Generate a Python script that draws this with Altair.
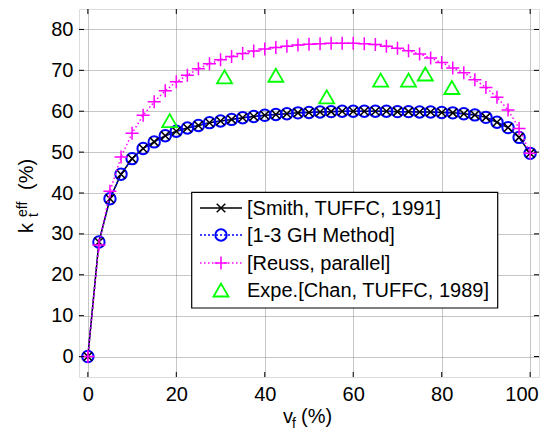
import altair as alt
import pandas as pd

# ---------------- data ----------------
vf = [0, 2.5, 5, 7.5, 10, 12.5, 15, 17.5, 20, 22.5, 25, 27.5, 30, 32.5, 35, 37.5,
      40, 42.5, 45, 47.5, 50, 52.5, 55, 57.5, 60, 62.5, 65, 67.5, 70, 72.5, 75,
      77.5, 80, 82.5, 85, 87.5, 90, 92.5, 95, 97.5, 100]
smith = [0, 28.0, 38.6, 44.6, 48.4, 50.9, 52.5, 54.0, 55.1, 55.9, 56.5, 57.2, 57.6,
         58.0, 58.4, 58.7, 59.0, 59.2, 59.4, 59.6, 59.7, 59.8, 59.9, 60.0, 60.0,
         60.0, 60.0, 60.0, 59.9, 59.9, 59.8, 59.8, 59.7, 59.6, 59.4, 59.1, 58.5,
         57.3, 56.0, 53.6, 49.7]
gh = [0, 28.0, 38.6, 44.6, 48.4, 50.9, 52.5, 54.0, 55.1, 55.9, 56.5, 57.2, 57.6,
      58.0, 58.4, 58.7, 59.0, 59.2, 59.4, 59.6, 59.7, 59.8, 59.9, 60.0, 60.0,
      60.0, 60.0, 60.0, 59.9, 59.9, 59.8, 59.8, 59.7, 59.6, 59.4, 59.1, 58.5,
      57.3, 56.0, 53.6, 49.7]
reuss = [0, 27.3, 40.4, 48.8, 54.6, 59.0, 62.3, 65.0, 67.2, 68.8, 70.4, 71.6, 72.6,
         73.4, 74.1, 74.7, 75.2, 75.6, 75.9, 76.2, 76.4, 76.5, 76.6, 76.6, 76.6,
         76.5, 76.3, 75.9, 75.4, 74.8, 74.0, 73.0, 71.9, 70.6, 69.4, 67.7, 65.8,
         63.4, 60.3, 55.8, 49.7]
expe_x = [18.5, 30.9, 42.5, 54.0, 66.2, 72.5, 76.3, 82.3]
expe_y = [57.7, 68.4, 68.8, 63.5, 67.6, 67.6, 69.1, 65.8]

x_ticks = [0, 20, 40, 60, 80, 100]
y_ticks = [0, 10, 20, 30, 40, 50, 60, 70, 80]

legend_labels = ["[Smith, TUFFC, 1991]", "[1-3 GH Method]", "[Reuss, parallel]",
                 "Expe.[Chan, TUFFC, 1989]"]

W, H = 460, 368
FONT = "Liberation Sans"

xs = alt.Scale(domain=[-2, 102], nice=False, zero=False)
ys = alt.Scale(domain=[-5, 85], nice=False, zero=False)

X_PATH = "M-1,-1L1,1M-1,1L1,-1"
PLUS_PATH = "M-1,0L1,0M0,-1L0,1"

df_smith = pd.DataFrame({"vf": vf, "k": smith})
df_gh = pd.DataFrame({"vf": vf, "k": gh})
df_reuss = pd.DataFrame({"vf": vf, "k": reuss})
df_expe = pd.DataFrame({"vf": expe_x, "k": expe_y})
df_xt = pd.DataFrame({"t": x_ticks})
df_yt = pd.DataFrame({"t": y_ticks})

xenc = alt.X("vf:Q", scale=xs,
             axis=alt.Axis(values=x_ticks, title=None, grid=True, ticks=False,
                           domain=False, labelFontSize=20, labelFont=FONT,
                           labelColor="black", labelPadding=7, gridColor="#8c8c8c",
                           gridDash=[1, 1], gridWidth=1, labelFlush=False,
                           labelBound=False,
                           labelAlign={"condition": {"test": "datum.value == 100",
                                                     "value": "right"},
                                       "value": "center"},
                           labelOffset={"condition": {"test": "datum.value == 100",
                                                      "value": 8},
                                        "value": 0}))
yenc = alt.Y("k:Q", scale=ys,
             axis=alt.Axis(values=y_ticks, title=None, grid=True, ticks=False,
                           domain=False, labelFontSize=20, labelFont=FONT,
                           labelColor="black", labelPadding=6, gridColor="#8c8c8c",
                           gridDash=[1, 1], gridWidth=1, labelFlush=False))

base_layers = []
# Smith: black solid with x markers
base_layers.append(alt.Chart(df_smith).mark_line(color="black", strokeWidth=1.5)
                   .encode(x=xenc, y=yenc))
# GH: blue dotted with circles
base_layers.append(alt.Chart(df_gh).mark_line(color="#0000ff", strokeWidth=1.5,
                                              strokeDash=[2, 2])
                   .encode(x="vf:Q", y="k:Q"))
base_layers.append(alt.Chart(df_gh).mark_point(shape="circle", filled=False,
                                               color="#0000ff", size=130,
                                               strokeWidth=2, opacity=1)
                   .encode(x="vf:Q", y="k:Q"))
base_layers.append(alt.Chart(df_smith).mark_point(shape=X_PATH, filled=False,
                                                  color="black", size=72,
                                                  strokeWidth=1.5, opacity=1)
                   .encode(x="vf:Q", y="k:Q"))
# Reuss: magenta dotted with plus
base_layers.append(alt.Chart(df_reuss).mark_line(color="#ff00ff", strokeWidth=1.5,
                                                 strokeDash=[1.5, 2.5])
                   .encode(x="vf:Q", y="k:Q"))
base_layers.append(alt.Chart(df_reuss).mark_point(shape=PLUS_PATH, filled=False,
                                                  color="#ff00ff", size=169,
                                                  strokeWidth=1.5, opacity=1)
                   .encode(x="vf:Q", y="k:Q"))
# Expe: green open triangles
base_layers.append(alt.Chart(df_expe).mark_point(shape="triangle-up", filled=False,
                                                 color="#00ff00", size=225,
                                                 strokeWidth=1.8, opacity=1)
                   .encode(x="vf:Q", y="k:Q"))

# inward ticks
tick_layers = [
    alt.Chart(df_xt).mark_rule(color="black", strokeWidth=1)
    .encode(x=alt.X("t:Q"), y=alt.value(H), y2=alt.value(H - 5)),
    alt.Chart(df_xt).mark_rule(color="black", strokeWidth=1)
    .encode(x=alt.X("t:Q"), y=alt.value(0), y2=alt.value(5)),
    alt.Chart(df_yt).mark_rule(color="black", strokeWidth=1)
    .encode(y=alt.Y("t:Q"), x=alt.value(0), x2=alt.value(5)),
    alt.Chart(df_yt).mark_rule(color="black", strokeWidth=1)
    .encode(y=alt.Y("t:Q"), x=alt.value(W), x2=alt.value(W - 5)),
]

one = alt.Data(values=[{"a": 1}])

# legend
LX0, LX1 = 112.7, 418.7
LY0, LY1 = 183.3, 299.0
entry_y = [199, 226, 254, 281]
legend_layers = [
    alt.Chart(one).mark_rect(fill="white", stroke="black", strokeWidth=1.2)
    .encode(x=alt.value(LX0), x2=alt.value(LX1), y=alt.value(LY0), y2=alt.value(LY1))
]
seg_x0, seg_x1, sym_x, txt_x = 121, 163, 142, 168
# Smith entry
legend_layers.append(alt.Chart(one).mark_rule(color="black", strokeWidth=1.5)
                     .encode(x=alt.value(seg_x0), x2=alt.value(seg_x1),
                             y=alt.value(entry_y[0])))
legend_layers.append(alt.Chart(one).mark_point(shape=X_PATH, filled=False, color="black",
                                               size=72, strokeWidth=1.5, opacity=1)
                     .encode(x=alt.value(sym_x), y=alt.value(entry_y[0])))
# GH entry
legend_layers.append(alt.Chart(one).mark_rule(color="#0000ff", strokeWidth=1.5,
                                              strokeDash=[2, 2])
                     .encode(x=alt.value(seg_x0), x2=alt.value(seg_x1),
                             y=alt.value(entry_y[1])))
legend_layers.append(alt.Chart(one).mark_point(shape="circle", filled=False,
                                               color="#0000ff", size=130, strokeWidth=2,
                                               opacity=1)
                     .encode(x=alt.value(sym_x), y=alt.value(entry_y[1])))
# Reuss entry
legend_layers.append(alt.Chart(one).mark_rule(color="#ff00ff", strokeWidth=1.5,
                                              strokeDash=[1.5, 2.5])
                     .encode(x=alt.value(seg_x0), x2=alt.value(seg_x1),
                             y=alt.value(entry_y[2])))
legend_layers.append(alt.Chart(one).mark_point(shape=PLUS_PATH, filled=False,
                                               color="#ff00ff", size=169, strokeWidth=1.5,
                                               opacity=1)
                     .encode(x=alt.value(sym_x), y=alt.value(entry_y[2])))
# Expe entry
legend_layers.append(alt.Chart(one).mark_point(shape="triangle-up", filled=False,
                                               color="#00ff00", size=225, strokeWidth=1.8,
                                               opacity=1)
                     .encode(x=alt.value(sym_x), y=alt.value(entry_y[3])))
for lbl, ly in zip(legend_labels, entry_y):
    legend_layers.append(alt.Chart(one).mark_text(align="left", baseline="middle",
                                                  fontSize=20, font=FONT, color="black")
                         .encode(x=alt.value(txt_x), y=alt.value(ly + 1),
                                 text=alt.value(lbl)))

# axis titles (with sub/superscripts)
def txt(s, x, y, size, angle=0):
    kw = dict(align="left", baseline="alphabetic", fontSize=size, font=FONT,
              color="black")
    if angle:
        kw["angle"] = angle
    return (alt.Chart(one).mark_text(**kw)
            .encode(x=alt.value(x), y=alt.value(y), text=alt.value(s)))

title_layers = [
    txt("v", 204, 414, 20),
    txt("f", 213, 419, 14),
    txt("(%)", 222, 414, 20),
    txt("k", -46, 224, 20, 270),
    txt("eff", -52, 208, 14, 270),
    txt("t", -41, 208, 14, 270),
    txt("(%)", -46, 181, 20, 270),
]

chart = alt.layer(*base_layers, *tick_layers, *legend_layers, *title_layers).properties(
    width=W, height=H,
    autosize=alt.AutoSizeParams(type="none"),
    padding={"left": 71, "top": 1, "right": 1, "bottom": 53},
).configure_view(stroke="black", strokeWidth=1.5).configure(background="white")

chart.save("out.html", embed_options={"renderer": "svg", "actions": False})
